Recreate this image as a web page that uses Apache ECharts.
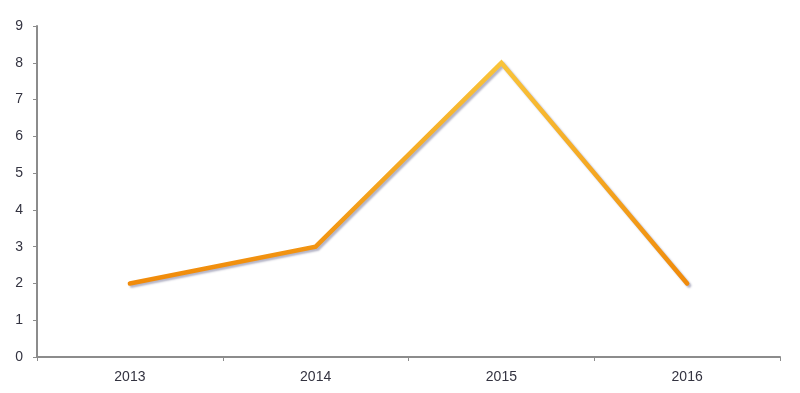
<!DOCTYPE html>
<html><head><meta charset="utf-8">
<script src="https://cdn.jsdelivr.net/npm/echarts@6/dist/echarts.min.js"></script>
<style>html,body{margin:0;padding:0;background:#fff}#c{width:800px;height:393px}</style>
</head><body><div id="c"></div>
<script>
const categories = ['2013', '2014', '2015', '2016'];
const values = [2, 3, 8, 2];
const yTicks = [0, 1, 2, 3, 4, 5, 6, 7, 8, 9];

const chart = echarts.init(document.getElementById('c'));
chart.setOption({
  animation: false,
  backgroundColor: '#fff',
  grid: { left: 37, right: 20, top: 26, bottom: 36, containLabel: false },
  xAxis: {
    type: 'category',
    data: categories,
    boundaryGap: true,
    axisLine: { lineStyle: { color: '#8c8c8c', width: 2 } },
    axisTick: { show: true, length: 4, lineStyle: { color: '#8c8c8c' } },
    axisLabel: { color: '#333340', fontFamily: 'Liberation Sans, Arial', fontSize: 14, margin: 13 },
    splitLine: { show: false }
  },
  yAxis: {
    type: 'value',
    min: yTicks[0], max: yTicks[yTicks.length - 1], interval: 1,
    axisLine: { show: true, lineStyle: { color: '#8c8c8c', width: 2 } },
    axisTick: { show: true, length: 4, lineStyle: { color: '#8c8c8c' } },
    axisLabel: { color: '#333340', fontFamily: 'Liberation Sans, Arial', fontSize: 14, margin: 14 },
    splitLine: { show: false }
  },
  series: [{
    type: 'line',
    data: values,
    symbol: 'none',
    lineStyle: {
      width: 4.5,
      cap: 'round',
      join: 'miter',
      color: new echarts.graphic.LinearGradient(0, 0, 0, 1, [
        { offset: 0, color: '#f9c43a' },
        { offset: 1, color: '#f08a0a' }
      ]),
      shadowColor: 'rgba(90,90,130,0.45)',
      shadowBlur: 2,
      shadowOffsetX: 2,
      shadowOffsetY: 2
    }
  }]
});
</script></body></html>
